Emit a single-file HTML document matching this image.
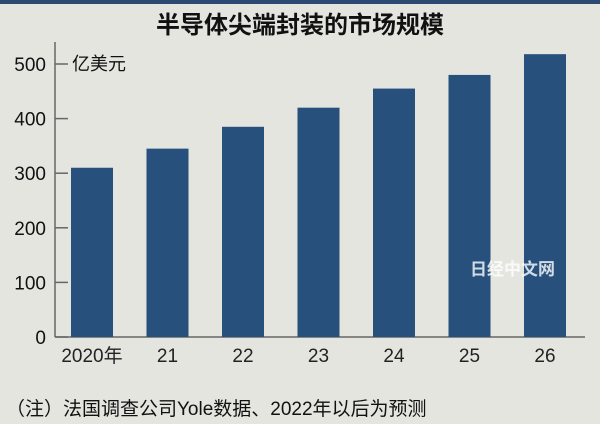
<!DOCTYPE html>
<html><head><meta charset="utf-8"><style>
body{margin:0;background:#e5e5e0;}
svg{display:block;font-family:"Liberation Sans","Noto Sans CJK SC",sans-serif;}
</style></head><body>
<svg width="600" height="424">
<rect x="0" y="0" width="600" height="424" fill="#e5e5e0"/>
<rect x="0" y="0" width="600" height="4" fill="#2a4a72"/>
<text x="300" y="33" font-size="24" text-anchor="middle" fill="#111" font-weight="bold">半导体尖端封装的市场规模</text>
<text x="72" y="70" font-size="18" fill="#111">亿美元</text>
<g id="plot"></g>
<text x="6" y="415" font-size="19" fill="#111">（注）法国调查公司Yole数据、2022年以后为预测</text>
<text x="470" y="275" font-size="17" fill="#fff" font-weight="bold" opacity="0.8">日经中文网</text>
</svg>
<script>
const categories=["2020年","21","22","23","24","25","26"];
const values=[310,345,385,420,455,480,518];
const ticks=[0,100,200,300,400,500];
const NS="http://www.w3.org/2000/svg";
const g=document.getElementById("plot");
const y0=337,pxPer=0.546,x0=92,step=75.5,bw=42,axX=55;
const y=v=>y0-v*pxPer, x=i=>x0+i*step;
function mk(t,a){const e=document.createElementNS(NS,t);for(const k in a)e.setAttribute(k,a[k]);g.appendChild(e);return e;}
let e=mk("line",{x1:axX,y1:42,x2:axX,y2:y0,stroke:"#666","stroke-width":1.5});


e=mk("line",{x1:axX,y1:y0,x2:585,y2:y0,stroke:"#666","stroke-width":1.5});


ticks.forEach(t=>{
 let l=mk("line",{x1:axX,y1:y(t),x2:axX+13,y2:y(t),stroke:"#666","stroke-width":1.5});
 
 
 let tx=mk("text",{x:46,y:y(t)+7,"font-size":19,"text-anchor":"end",fill:"#111"});
 tx.textContent=t;
 
 
});
values.forEach((v,i)=>{
 let r=mk("rect",{x:x(i)-bw/2,y:y(v),width:bw,height:y0-y(v),fill:"#27507c"});
 
 
 let tx=mk("text",{x:x(i),y:362,"font-size":19,"text-anchor":"middle",fill:"#222"});
 tx.textContent=categories[i];
 
 
});
</script>
</body></html>
